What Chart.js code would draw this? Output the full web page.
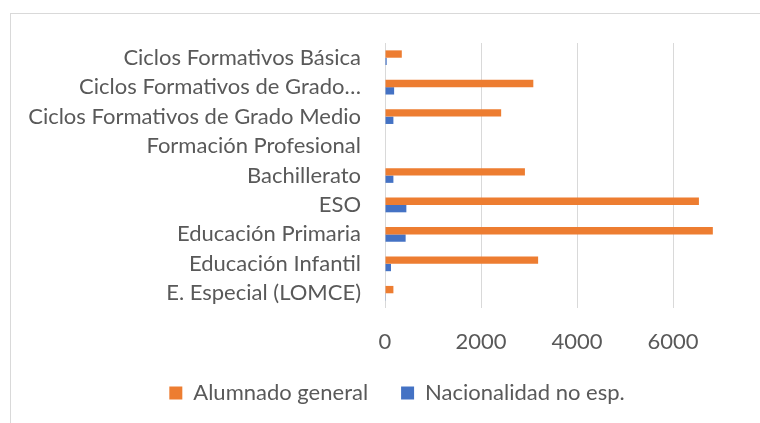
<!DOCTYPE html>
<html lang="es">
<head>
<meta charset="utf-8">
<script src="https://cdn.jsdelivr.net/npm/chart.js@4"></script>
<style>
  html, body { margin: 0; padding: 0; background: #fff; overflow: hidden; }
  #box {
    position: absolute; left: 10px; top: 13px;
    width: 772px; height: 418px;
    border: 1px solid #d9d9d9;
  }
</style>
</head>
<body>
<div id="box"><canvas id="chart" width="772" height="418"></canvas></div>
<script>
  // categorías (de arriba a abajo)
  const categorias = [
    'Ciclos Formativos Básica',
    'Ciclos Formativos de Grado…',
    'Ciclos Formativos de Grado Medio',
    'Formación Profesional',
    'Bachillerato',
    'ESO',
    'Educación Primaria',
    'Educación Infantil',
    'E. Especial (LOMCE)'
  ];
  const alumnadoGeneral = [350, 3090, 2420, 0, 2915, 6540, 6830, 3190, 175];
  const nacionalidadNoEsp = [35, 190, 175, 0, 175, 445, 430, 125, 15];
  const ticksX = [0, 2000, 4000, 6000, 8000];

  const GRIS = '#595959';
  const FUENTE = { family: 'Lato, "Open Sans", sans-serif', size: 22 };

  // sin márgenes automáticos por las etiquetas: el área del gráfico la fija layout.padding
  function sinPadding(s) {
    s.paddingTop = s.paddingBottom = s.paddingLeft = s.paddingRight = 0;
  }

  new Chart(document.getElementById('chart'), {
    type: 'bar',
    data: {
      labels: categorias,
      datasets: [
        { label: 'Alumnado general', data: alumnadoGeneral, backgroundColor: '#ED7D31' },
        { label: 'Nacionalidad no esp.', data: nacionalidadNoEsp, backgroundColor: '#4472C4' }
      ]
    },
    options: {
      indexAxis: 'y',
      responsive: false,
      animation: false,
      datasets: { bar: { categoryPercentage: 0.5, barPercentage: 1 } },
      layout: { autoPadding: false, padding: { left: 14, top: 29, right: 14, bottom: 18 } },
      scales: {
        x: {
          min: ticksX[0],
          max: ticksX[ticksX.length - 1],
          afterBuildTicks: (s) => { s.ticks = ticksX.map(v => ({ value: v })); },
          afterFit: (s) => { s.height = 41; sinPadding(s); },
          grid: { color: '#d9d9d9', drawTicks: false },
          border: { display: false },
          // la última etiqueta (8000) no cabe en el gráfico
          ticks: { color: GRIS, font: FUENTE, padding: 21, callback: (v) => (v === 8000 ? '' : String(v)) }
        },
        y: {
          afterFit: (s) => { s.width = 360; sinPadding(s); },
          grid: { display: false, drawTicks: false },
          border: { display: false },
          ticks: { color: GRIS, font: FUENTE, padding: 24, autoSkip: false }
        }
      },
      plugins: {
        legend: {
          position: 'bottom',
          labels: { color: GRIS, font: FUENTE, boxWidth: 13, boxHeight: 13, padding: 33 }
        },
        tooltip: { enabled: false }
      }
    }
  });
</script>
</body>
</html>
